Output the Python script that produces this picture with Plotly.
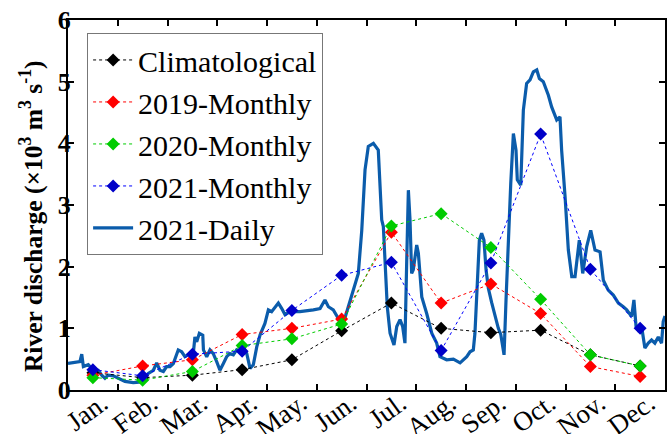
import plotly.graph_objects as go

months = ["Jan.", "Feb.", "Mar.", "Apr.", "May.", "Jun.", "Jul.", "Aug.", "Sep.", "Oct.", "Nov.", "Dec."]
clim = [0.28, 0.20, 0.24, 0.33, 0.49, 0.96, 1.41, 1.00, 0.93, 0.97, 0.57, 0.39]
m2019 = [0.24, 0.39, 0.49, 0.90, 1.00, 1.15, 2.56, 1.41, 1.72, 1.24, 0.38, 0.22]
m2020 = [0.20, 0.16, 0.30, 0.72, 0.83, 1.07, 2.66, 2.86, 2.31, 1.47, 0.57, 0.39]
m2021 = [0.33, 0.23, 0.58, 0.63, 1.29, 1.86, 2.07, 0.64, 2.06, 4.15, 1.96, 1.00]

daily_day = [0, 7.3, 8.4, 9.4, 12.4, 15.5, 18.5, 20.6, 22.6, 24.6, 27.7, 30.8, 34.8, 39.9, 45.1,
             47.1, 49.1, 52.2, 54.2, 56.2, 58.3, 60.3, 62.4, 64.4, 67.4, 69.5, 71.5, 74.6, 76.6,
             77.6, 78.7, 80.3, 82.4, 82.8, 84.8, 86.8, 88.8, 90.9, 92.9, 95.0, 97.0, 99.0, 101.1,
             103.1, 105.2, 107.2, 109.3, 111.3, 113.3, 115.4, 117.4, 120.4, 122.5, 124.5, 126.6,
             128.6, 130.7, 132.7, 135.7, 141.8, 150.0, 154.1, 157.1, 159.2, 162.2, 165.3, 168.3,
             171.4, 174.4, 177.5, 179.6, 181.6, 183.6, 186.7, 189.7, 190.8, 191.8, 192.8, 193.8,
             195.2, 196.9, 199.3, 201.0, 203.0, 204.6, 206.0, 207.1, 208.1, 209.1, 210.1, 211.1,
             213.2, 214.2, 216.3, 219.3, 222.4, 225.4, 227.4, 231.5, 235.6, 239.7, 243.8, 245.8,
             247.8, 248.8, 250.2, 251.5, 252.9, 254.3, 255.6, 257.0, 259.0, 261.1, 263.1, 264.6,
             266.6, 267.8, 269.2, 270.7, 272.3, 273.9, 274.7, 276.8, 278.4, 280.4, 282.5, 284.5,
             286.6, 288.2, 290.6, 293.7, 295.7, 298.8, 300.8, 301.8, 303.9, 305.9, 308.0, 310.0,
             312.6, 314.7, 317.1, 319.6, 322.2, 325.3, 327.3, 330.3, 333.4, 336.5, 339.5, 341.6,
             344.6, 346.0, 347.3, 348.7, 350.7, 352.7, 354.8, 356.8, 358.8, 360.9, 362.9, 363.9, 365.0]
daily_val = [0.43, 0.46, 0.58, 0.38, 0.41, 0.32, 0.32, 0.24, 0.19, 0.24, 0.23, 0.19, 0.14, 0.12, 0.13,
             0.19, 0.27, 0.32, 0.44, 0.32, 0.30, 0.38, 0.38, 0.43, 0.65, 0.62, 0.54, 0.59, 0.59,
             0.86, 0.78, 0.92, 0.89, 0.65, 0.54, 0.65, 0.59, 0.46, 0.32, 0.43, 0.54, 0.59, 0.57,
             0.65, 0.62, 0.70, 0.59, 0.35, 0.41, 0.70, 0.89, 1.08, 1.30, 1.27, 1.35,
             1.41, 1.32, 1.22, 1.27, 1.27, 1.30, 1.32, 1.46, 1.35, 1.30, 1.16, 1.08,
             1.35, 1.62, 1.89, 2.59, 3.57, 3.95, 4.00, 3.89, 3.30, 2.76, 2.65, 2.11,
             1.35, 0.92, 0.73, 1.03, 1.14, 1.03, 0.76, 2.11, 3.24, 2.76, 1.89, 1.95,
             2.35, 2.22, 1.51, 1.24, 0.92, 0.76, 0.54, 0.49, 0.50, 0.44, 0.54, 0.62,
             0.65, 0.92, 1.73, 2.43, 2.54, 2.43, 1.95, 1.65, 1.42, 1.20, 1.00, 0.90,
             0.57, 1.46, 2.54, 3.35, 4.16, 3.89, 3.41, 3.32, 4.54, 4.97, 5.03, 5.16,
             5.19, 5.05, 5.00, 4.78, 4.59, 4.38, 4.43, 3.89, 3.14, 2.27, 1.84, 1.84,
             2.43, 1.89, 2.32, 2.59, 2.27, 2.24, 1.78, 1.62, 1.54, 1.41, 1.35, 1.30,
             1.19, 1.46, 1.03, 0.97, 1.03, 0.68, 0.76, 0.81, 0.76, 0.86, 0.76, 1.11, 1.20]

yticks = [0, 1, 2, 3, 4, 5, 6]
y_title = "River discharge (×10<sup>3</sup> m<sup>3</sup> s<sup>-1</sup>)"

mid = [i + 0.5 for i in range(12)]
bounds = list(range(1, 12))
daily_x = [d * 12 / 365 for d in daily_day]

fig = go.Figure()
fig.add_trace(go.Scatter(x=daily_x, y=daily_val, mode="lines", name="2021-Daily",
                         line=dict(color="#0b5cab", width=3.2), legendrank=5))
series = [("Climatological", clim, "#000000", "#000000"),
          ("2019-Monthly", m2019, "#ff0000", "#ff0000"),
          ("2020-Monthly", m2020, "#00cc00", "#00cc00"),
          ("2021-Monthly", m2021, "#0000ff", "#0000c8")]
for rank, (name, vals, lc, mc) in enumerate(series, start=1):
    fig.add_trace(go.Scatter(x=mid, y=vals, mode="lines+markers", name=name,
                             line=dict(color=lc, width=1, dash="dot"),
                             marker=dict(symbol="diamond", size=10, color=mc),
                             legendrank=rank))
# empty helper trace so the top axis (tick marks only) is drawn
fig.add_trace(go.Scatter(x=[], y=[], xaxis="x2", showlegend=False, hoverinfo="skip"))

fig.update_layout(
    width=667, height=434,
    margin=dict(l=68, r=2, t=20, b=44),
    paper_bgcolor="white", plot_bgcolor="white",
    font=dict(family="Liberation Serif", color="black"),
    legend=dict(x=0.032, y=0.965, xanchor="left", yanchor="top",
                bgcolor="white", bordercolor="#777777", borderwidth=1,
                font=dict(size=30, family="Liberation Serif"),
                tracegroupgap=0, itemwidth=40),
    showlegend=True,
    annotations=[dict(text=y_title, xref="paper", yref="paper",
                      x=-0.062, y=0.47, xanchor="center", yanchor="middle",
                      textangle=-90, showarrow=False,
                      font=dict(size=25.5, family="Liberation Serif", weight="bold", color="black"))],
    xaxis2=dict(overlaying="x", side="top", range=[0, 12], tickmode="array", tickvals=bounds,
                ticks="inside", ticklen=6, tickwidth=1.5, tickcolor="black",
                showticklabels=False, showgrid=False, zeroline=False, showline=False,
                automargin=False),
)
fig.update_xaxes(selector=dict(anchor="y"), range=[0, 12], tickmode="array", tickvals=mid, ticktext=months,
                 ticks="", tickangle=-36, tickfont=dict(size=27, family="Liberation Serif"),
                 ticklabelshift=9, ticklabelstandoff=-15, automargin=False,
                 minor=dict(tickmode="array", tickvals=bounds, ticks="inside",
                            ticklen=6, tickwidth=1.5, tickcolor="black"),
                 showline=True, linewidth=2, linecolor="black", mirror=True,
                 showgrid=False, zeroline=False)
fig.layout.xaxis.update(range=[0, 12], tickmode="array", tickvals=mid, ticktext=months,
                        ticks="", tickangle=-36, tickfont=dict(size=27, family="Liberation Serif"),
                        ticklabelshift=9, ticklabelstandoff=-15, automargin=False,
                        minor=dict(tickmode="array", tickvals=bounds, ticks="inside",
                                   ticklen=6, tickwidth=1.5, tickcolor="black"),
                        showline=True, linewidth=2, linecolor="black", mirror=True,
                        showgrid=False, zeroline=False)
fig.update_yaxes(range=[0, 6], tickmode="array", tickvals=yticks,
                 ticks="inside", ticklen=6, tickwidth=1.5, tickcolor="black",
                 tickfont=dict(size=26, family="Liberation Serif", weight="bold"),
                 ticklabelstandoff=-10,
                 showline=True, linewidth=2, linecolor="black", mirror="ticks",
                 showgrid=False, zeroline=False, automargin=False)

fig.write_html("out.html")
